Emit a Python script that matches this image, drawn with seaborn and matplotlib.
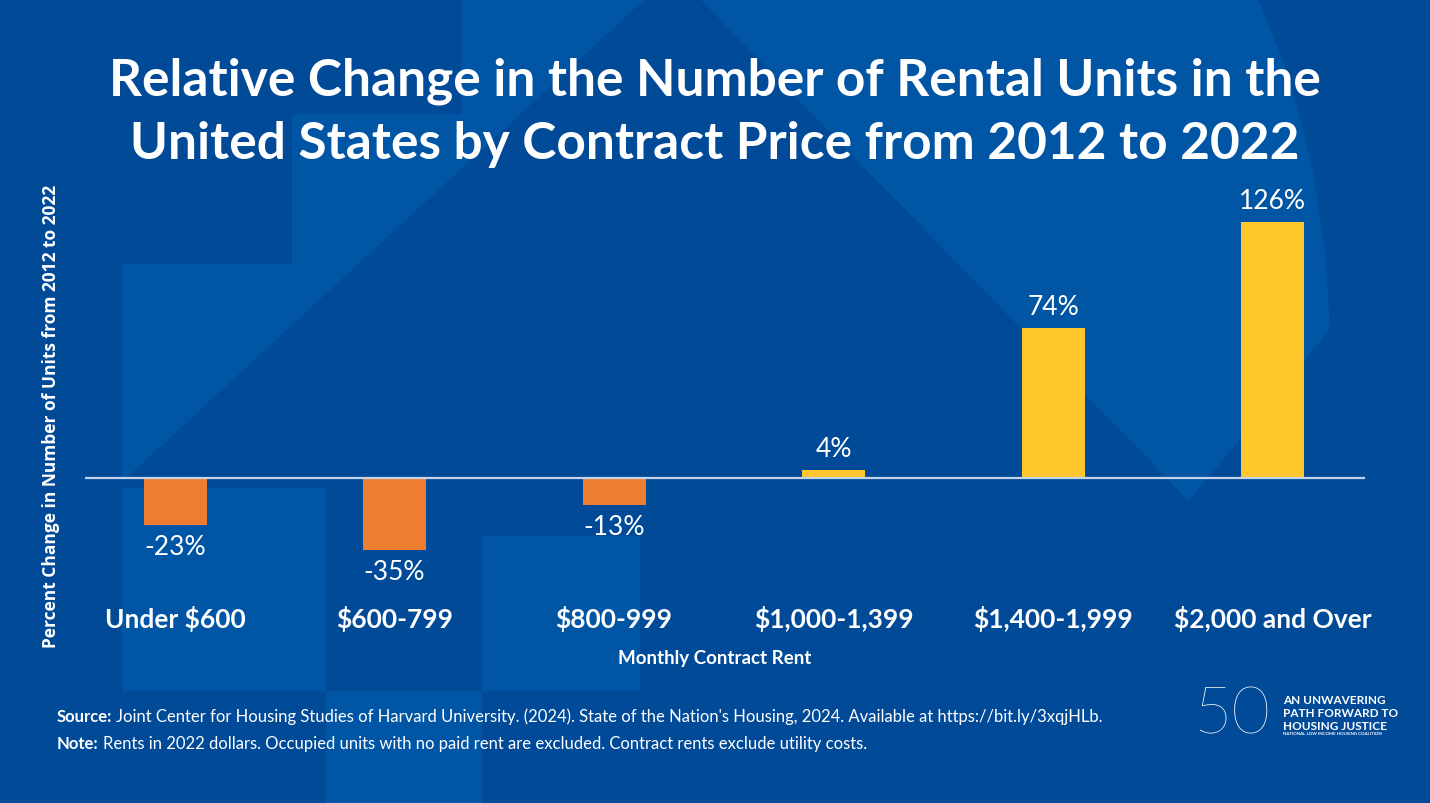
import matplotlib
matplotlib.use("Agg")
import matplotlib.pyplot as plt
from matplotlib.patches import Polygon
import seaborn as sns
import pandas as pd

# ---- data ----
categories = ["Under $600", "$600-799", "$800-999", "$1,000-1,399", "$1,400-1,999", "$2,000 and Over"]
pct_change = [-23, -35, -13, 4, 74, 126]
value_labels = ["-23%", "-35%", "-13%", "4%", "74%", "126%"]

title = "Relative Change in the Number of Rental Units in the\nUnited States by Contract Price from 2012 to 2022"
ylabel = "Percent Change in Number of Units from 2012 to 2022"
xlabel = "Monthly Contract Rent"

# ---- style ----
BG = "#004A98"
LIGHT = "#0056A5"
ORANGE = "#ED7D31"
YELLOW = "#FFC72C"
WHITE = "white"

sns.set_theme(style="white")
plt.rcParams["font.family"] = ["Lato", "DejaVu Sans"]

W, H = 1430, 804
fig = plt.figure(figsize=(W / 100, H / 100), dpi=100, facecolor=BG)

# decorative background shapes (figure pixel coords, y from top)
def px(pts):
    return [(x / W, 1 - y / H) for x, y in pts]

shapes = [
    [(461, 0), (645, 0), (122, 483), (122, 265), (292, 265), (292, 115), (461, 115)],
    [(122, 489), (326, 489), (326, 692), (122, 692)],
    [(326, 692), (482, 692), (482, 804), (326, 804)],
    [(482, 537), (640, 537), (640, 692), (482, 692)],
    [(700, 0), (1258, 0), (1290, 80), (1312, 167), (1325, 250), (1330, 330), (1189, 502)],
]
for s in shapes:
    fig.patches.append(Polygon(px(s), closed=True, transform=fig.transFigure,
                               facecolor=LIGHT, edgecolor="none", zorder=-5))

# ---- axes ----
ax_left, ax_right, ax_top, ax_bottom = 85, 1365, 193, 603
ax = fig.add_axes([ax_left / W, 1 - ax_bottom / H, (ax_right - ax_left) / W, (ax_bottom - ax_top) / H])
ax.set_facecolor("none")
ax.set_zorder(2)

df = pd.DataFrame({"category": categories, "value": pct_change})
colors = {c: (ORANGE if v < 0 else YELLOW) for c, v in zip(categories, pct_change)}
sns.barplot(data=df, x="category", y="value", hue="category", palette=colors,
            legend=False, width=0.287, ax=ax, saturation=1, zorder=2,
            edgecolor="none", linewidth=0)

ax.axhline(0, color="#C5D3EA", lw=1.6, zorder=3)
ax.set_xlim(-0.41, 5.42)
ax.set_ylim(-60.8, 140.7)

for cont, lab in zip(ax.containers, value_labels):
    ax.bar_label(cont, labels=[lab], padding=6.5, color=WHITE, fontsize=19)

for sp in ax.spines.values():
    sp.set_visible(False)
ax.set_yticks([])
ax.set_ylabel("")
ax.set_xlabel("")
ax.tick_params(axis="x", length=0, pad=2, colors=WHITE)
for t in ax.get_xticklabels():
    t.set_fontsize(19)
    t.set_fontweight("bold")
    t.set_color(WHITE)

# ---- texts ----
fig.text(0.5, 1 - 113 / H, title, ha="center", va="center", color=WHITE,
         fontsize=37, fontweight="bold", linespacing=1.42)
fig.text(51 / W, 1 - 416 / H, ylabel, rotation=90, ha="center", va="center",
         color=WHITE, fontsize=12.5, fontweight="bold", family=["Open Sans", "DejaVu Sans"])
fig.text(715 / W, 1 - 659 / H, xlabel, ha="center", va="center", color=WHITE,
         fontsize=13.5, fontweight="bold")

FS = 12.0
src_y = 1 - 717 / H
note_y = 1 - 744 / H
t1 = fig.text(57 / W, src_y, "Source:", ha="left", va="center", color=WHITE, fontsize=FS, fontweight="bold")
fig.canvas.draw()
r = fig.canvas.get_renderer()
bb = t1.get_window_extent(r)
fig.text((bb.x1 + 4) / W, src_y,
         "Joint Center for Housing Studies of Harvard University. (2024). State of the Nation's Housing, 2024. Available at https://bit.ly/3xqjHLb.",
         ha="left", va="center", color=WHITE, fontsize=FS)
t2 = fig.text(57 / W, note_y, "Note:", ha="left", va="center", color=WHITE, fontsize=FS, fontweight="bold")
bb2 = t2.get_window_extent(r)
fig.text((bb2.x1 + 4) / W, note_y,
         "Rents in 2022 dollars. Occupied units with no paid rent are excluded. Contract rents exclude utility costs.",
         ha="left", va="center", color=WHITE, fontsize=FS)

# logo (text approximation)
fig.text(1232 / W, 1 - 716 / H, "50", ha="center", va="center", color=WHITE,
         fontsize=48, fontweight="light")
fig.text(1283 / W, 1 - 701 / H, "AN UNWAVERING", ha="left", va="center", color=WHITE,
         fontsize=8.5, fontweight="bold")
fig.text(1283 / W, 1 - 714 / H, "PATH FORWARD TO", ha="left", va="center", color=WHITE,
         fontsize=8.5, fontweight="bold")
fig.text(1283 / W, 1 - 726 / H, "HOUSING JUSTICE", ha="left", va="center", color=WHITE,
         fontsize=8.5, fontweight="bold")
fig.text(1283 / W, 1 - 734 / H, "NATIONAL LOW INCOME HOUSING COALITION", ha="left", va="center",
         color=WHITE, fontsize=3.2, fontweight="bold")

fig.savefig("out.png", dpi=100, facecolor=BG)
